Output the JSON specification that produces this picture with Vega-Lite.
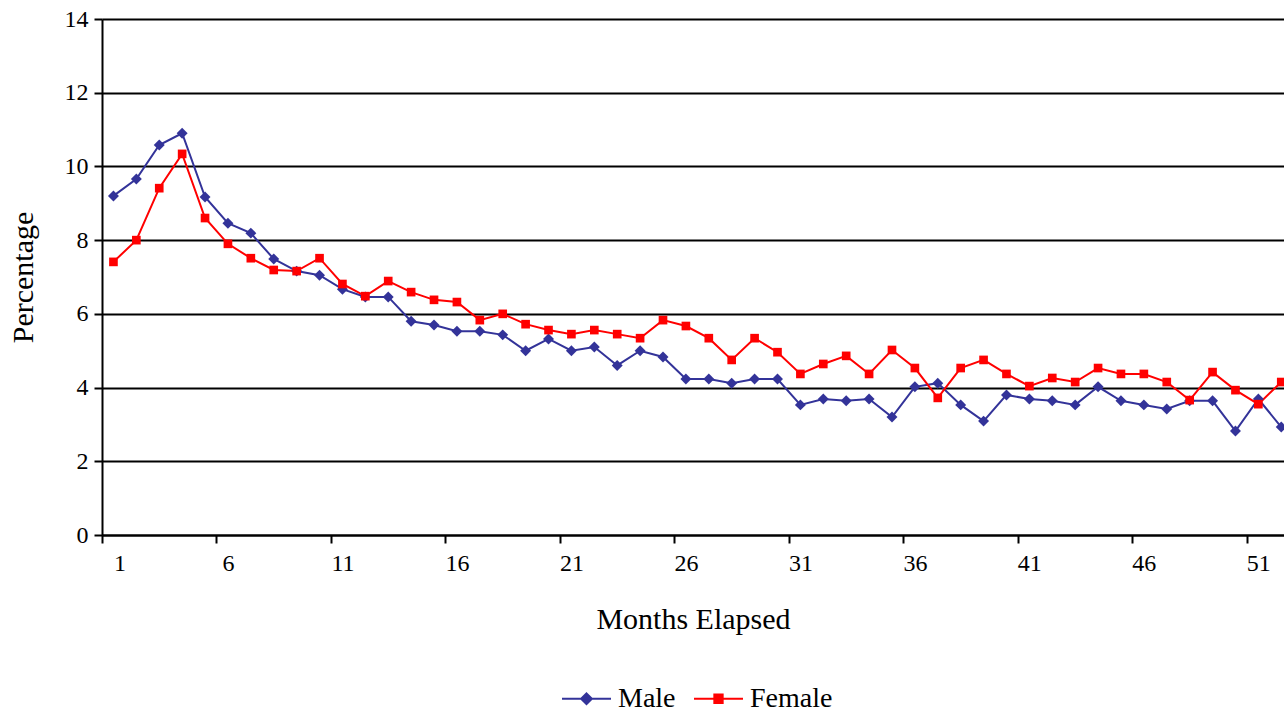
{
  "$schema": "https://vega.github.io/schema/vega-lite/v6.json",
  "autosize": "none",
  "width": 1182,
  "height": 516,
  "padding": {"left": 102, "top": 19, "right": 0, "bottom": 180},
  "background": "white",
  "config": {
    "font": "Liberation Serif",
    "view": {"stroke": null},
    "axis": {"labelFont": "Liberation Serif", "titleFont": "Liberation Serif", "labelColor": "black", "titleColor": "black", "titleFontWeight": "normal"},
    "legend": {"labelFont": "Liberation Serif"}
  },
  "data": {
    "values": [
      {"Month": 1, "Male": 9.2, "Female": 7.41},
      {"Month": 2, "Male": 9.66, "Female": 8.0},
      {"Month": 3, "Male": 10.58, "Female": 9.41},
      {"Month": 4, "Male": 10.9, "Female": 10.34},
      {"Month": 5, "Male": 9.17, "Female": 8.6},
      {"Month": 6, "Male": 8.46, "Female": 7.9},
      {"Month": 7, "Male": 8.19, "Female": 7.51},
      {"Month": 8, "Male": 7.49, "Female": 7.19},
      {"Month": 9, "Male": 7.16, "Female": 7.16},
      {"Month": 10, "Male": 7.05, "Female": 7.51},
      {"Month": 11, "Male": 6.67, "Female": 6.81},
      {"Month": 12, "Male": 6.46, "Female": 6.48},
      {"Month": 13, "Male": 6.46, "Female": 6.89},
      {"Month": 14, "Male": 5.8, "Female": 6.59},
      {"Month": 15, "Male": 5.7, "Female": 6.38},
      {"Month": 16, "Male": 5.53, "Female": 6.32},
      {"Month": 17, "Male": 5.53, "Female": 5.83},
      {"Month": 18, "Male": 5.43, "Female": 6.0},
      {"Month": 19, "Male": 5.0, "Female": 5.72},
      {"Month": 20, "Male": 5.32, "Female": 5.56},
      {"Month": 21, "Male": 5.0, "Female": 5.45},
      {"Month": 22, "Male": 5.1, "Female": 5.56},
      {"Month": 23, "Male": 4.6, "Female": 5.45},
      {"Month": 24, "Male": 5.0, "Female": 5.34},
      {"Month": 25, "Male": 4.83, "Female": 5.83},
      {"Month": 26, "Male": 4.23, "Female": 5.67},
      {"Month": 27, "Male": 4.23, "Female": 5.34},
      {"Month": 28, "Male": 4.12, "Female": 4.75},
      {"Month": 29, "Male": 4.23, "Female": 5.34},
      {"Month": 30, "Male": 4.23, "Female": 4.96},
      {"Month": 31, "Male": 3.53, "Female": 4.37},
      {"Month": 32, "Male": 3.69, "Female": 4.64},
      {"Month": 33, "Male": 3.64, "Female": 4.86},
      {"Month": 34, "Male": 3.69, "Female": 4.37},
      {"Month": 35, "Male": 3.2, "Female": 5.02},
      {"Month": 36, "Male": 4.02, "Female": 4.53},
      {"Month": 37, "Male": 4.12, "Female": 3.72},
      {"Month": 38, "Male": 3.53, "Female": 4.53},
      {"Month": 39, "Male": 3.09, "Female": 4.75},
      {"Month": 40, "Male": 3.8, "Female": 4.37},
      {"Month": 41, "Male": 3.69, "Female": 4.04},
      {"Month": 42, "Male": 3.64, "Female": 4.26},
      {"Month": 43, "Male": 3.53, "Female": 4.15},
      {"Month": 44, "Male": 4.02, "Female": 4.53},
      {"Month": 45, "Male": 3.64, "Female": 4.37},
      {"Month": 46, "Male": 3.53, "Female": 4.37},
      {"Month": 47, "Male": 3.42, "Female": 4.15},
      {"Month": 48, "Male": 3.64, "Female": 3.66},
      {"Month": 49, "Male": 3.64, "Female": 4.42},
      {"Month": 50, "Male": 2.82, "Female": 3.93},
      {"Month": 51, "Male": 3.69, "Female": 3.55},
      {"Month": 52, "Male": 2.93, "Female": 4.15}
    ]
  },
  "transform": [{"fold": ["Male", "Female"], "as": ["Sex", "Pct"]}],
  "encoding": {
    "x": {
      "field": "Month", "type": "quantitative",
      "scale": {"domain": [0.5, 52.12], "nice": false, "zero": false},
      "axis": {
        "title": "Months Elapsed", "titleFontSize": 30, "titlePadding": 29,
        "values": [0.5, 5.5, 10.5, 15.5, 20.5, 25.5, 30.5, 35.5, 40.5, 45.5, 50.5],
        "labelExpr": "format(datum.value + 0.5, 'd')",
        "labelOffset": 11.45, "labelFontSize": 24, "labelPadding": 8,
        "grid": false, "domainColor": "black", "domainWidth": 2,
        "tickColor": "black", "tickWidth": 2, "tickSize": 8
      }
    },
    "y": {
      "field": "Pct", "type": "quantitative",
      "scale": {"domain": [0, 14], "nice": false},
      "axis": {
        "title": "Percentage", "titleFontSize": 30, "titlePadding": 26,
        "values": [0, 2, 4, 6, 8, 10, 12, 14], "format": "d",
        "labelFontSize": 24, "labelPadding": 6,
        "grid": true, "gridColor": "black", "gridWidth": 2, "gridOpacity": 1,
        "domainColor": "black", "domainWidth": 2,
        "tickColor": "black", "tickWidth": 2, "tickSize": 8
      }
    },
    "color": {
      "field": "Sex", "type": "nominal",
      "scale": {"domain": ["Male", "Female"], "range": ["#333399", "#FF0000"]},
      "legend": {
        "title": null, "orient": "none", "direction": "horizontal",
        "legendX": 459, "legendY": 654,
        "labelFontSize": 28, "labelColor": "black", "labelLimit": 0,
        "symbolSize": 2400, "symbolStrokeWidth": 2, "labelOffset": 6, "columnPadding": 14,
        "encode": {
          "symbols": {
            "update": {
              "shape": {"signal": "datum.value === 'Male' ? 'M-1,0H1M0,-0.22L0.22,0L0,0.22L-0.22,0Z' : 'M-1,0H1M-0.17,-0.17H0.17V0.17H-0.17Z'"},
              "fill": {"signal": "datum.value === 'Male' ? '#333399' : '#FF0000'"},
              "stroke": {"signal": "datum.value === 'Male' ? '#333399' : '#FF0000'"},
              "strokeWidth": {"value": 2},
              "opacity": {"value": 1},
              "fillOpacity": {"value": 1},
              "strokeOpacity": {"value": 1}
            }
          }
        }
      }
    }
  },
  "layer": [
    {"mark": {"type": "line", "strokeWidth": 2}},
    {
      "transform": [{"filter": "datum.Sex === 'Male'"}],
      "mark": {"type": "point", "filled": true, "opacity": 1, "shape": "diamond", "size": 120}
    },
    {
      "transform": [{"filter": "datum.Sex === 'Female'"}],
      "mark": {"type": "point", "filled": true, "opacity": 1, "shape": "square", "size": 75}
    }
  ]
}
